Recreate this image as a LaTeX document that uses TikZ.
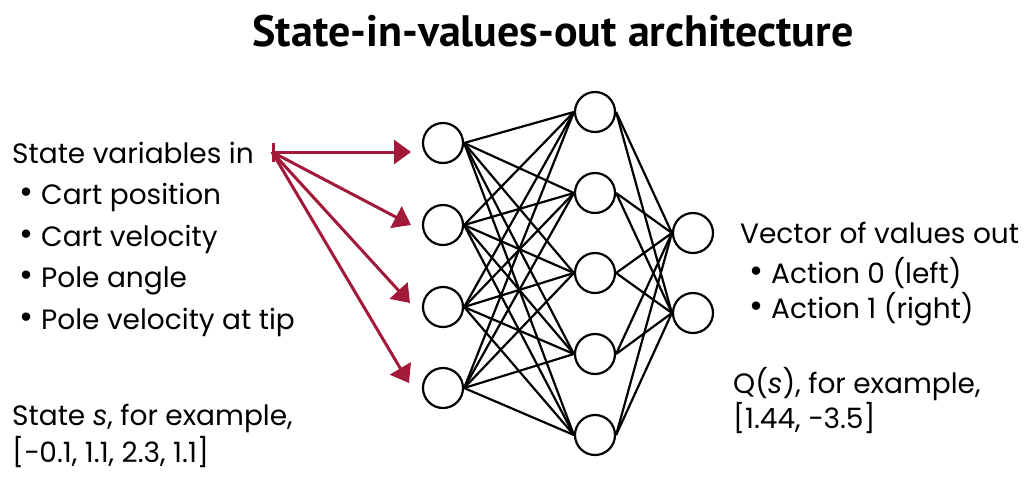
\documentclass[tikz,border=0pt]{standalone}
\usepackage{fontspec}
\setmainfont{Poppins}
\newfontfamily\titlefont{PT Sans}
\usetikzlibrary{arrows.meta}
\definecolor{arrred}{HTML}{A3193A}
\begin{document}
\begin{tikzpicture}[x=1pt,y=-1pt,
  neuron/.style={circle,draw=black,line width=2.2pt,minimum size=40pt,inner sep=0pt,fill=white},
  link/.style={line width=2.2pt,black},
  redarrow/.style={line width=3pt,arrred,-{Triangle[length=17pt,width=24pt]}},
  txt/.style={anchor=base west,inner sep=0pt,font=\fontsize{28}{32}\selectfont},
  ttl/.style={inner sep=0pt,font=\titlefont\bfseries\fontsize{44}{50}\selectfont}]
\useasboundingbox (0,0) rectangle (1034,483);
\node[ttl] (title) at (553,31) {State-in-values-out architecture};
\foreach \i/\y in {1/143,2/225,3/307,4/388}{\node[neuron] (in\i) at (443,\y) {};}
\foreach \i/\y in {1/112,2/193,3/273,4/354,5/435}{\node[neuron] (hd\i) at (595,\y) {};}
\foreach \i/\y in {1/233,2/313}{\node[neuron] (out\i) at (693,\y) {};}
\foreach \i in {1,...,4}{\foreach \j in {1,...,5}{\draw[link] (in\i.east) -- (hd\j.west);}}
\foreach \j in {1,...,5}{\foreach \k in {1,2}{\draw[link] (hd\j.east) -- (out\k.west);}}
% arrows
\coordinate (src) at (272,152);
\coordinate (t1) at (411,152);
\coordinate (t2) at (411,225);
\coordinate (t3) at (410,303);
\coordinate (t4) at (409,383);
\draw[redarrow,{Bar[width=19pt]}-{Triangle[length=17pt,width=24pt]}] (src) -- (t1);
\draw[redarrow] (src) -- (t2);
\draw[redarrow] (src) -- (t3);
\draw[redarrow] (src) -- (t4);
% left texts
\newcommand{\blt}{\makebox[22pt][l]{\raisebox{1pt}{\fontsize{34}{34}\selectfont•}}}
\node[txt] (sv) at (12,163) {State variables in};
\node[txt] (l1) at (19,204) {\blt Cart position};
\node[txt] (l2) at (19,246) {\blt Cart velocity};
\node[txt] (l3) at (19,287) {\blt Pole angle};
\node[txt] (l4) at (19,329) {\blt Pole velocity at tip};
\node[txt] (ex1) at (12,425) {State \textit{s}, for example,};
\node[txt] (ex2) at (12,462) {[−0.1, 1.1, 2.3, 1.1]};
% right texts
\node[txt] (vo) at (740,243) {Vector of values out};
\node[txt] (r1) at (749,283) {\blt Action 0 (left)};
\node[txt] (r2) at (749,318) {\blt Action 1 (right)};
\node[txt] (q1) at (733,393) {Q(\textit{s}), for example,};
\node[txt] (q2) at (733,428) {[1.44, −3.5]};
\end{tikzpicture}
\end{document}
